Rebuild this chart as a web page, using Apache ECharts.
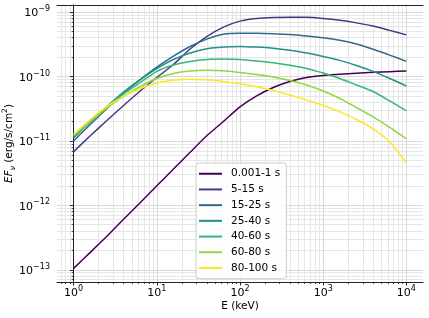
<!DOCTYPE html>
<html>
<head>
<meta charset="utf-8">
<script src="https://cdn.jsdelivr.net/npm/echarts@6/dist/echarts.min.js"></script>
<style>
html,body{margin:0;padding:0;background:#fff;}
#c{width:429px;height:318px;}
</style>
</head>
<body>
<div id="c"></div>
<script>
// Energies (keV)
const energies = [1, 1.585, 2.512, 3.981, 6.310, 10, 15.85, 25.12, 39.81, 63.10, 100, 158.5, 251.2, 398.1, 631.0, 1000, 1585, 2512, 3981, 6310, 10000];

// EF_nu (erg/s/cm^2) per time interval
const flux_0001_1 = [1.05e-13, 1.86e-13, 3.32e-13, 6.07e-13, 1.10e-12, 2.01e-12, 3.66e-12, 6.65e-12, 1.20e-11, 2.00e-11, 3.37e-11, 4.99e-11, 6.75e-11, 8.36e-11, 9.64e-11, 1.04e-10, 1.08e-10, 1.12e-10, 1.16e-10, 1.19e-10, 1.22e-10];
const flux_5_15 = [6.82e-12, 1.20e-11, 2.08e-11, 3.55e-11, 5.96e-11, 9.64e-11, 1.535e-10, 2.67e-10, 4.17e-10, 5.85e-10, 7.24e-10, 7.93e-10, 8.22e-10, 8.30e-10, 8.28e-10, 7.96e-10, 7.46e-10, 6.80e-10, 6.07e-10, 5.20e-10, 4.43e-10];
const flux_15_25 = [1.00e-11, 1.80e-11, 3.19e-11, 5.55e-11, 8.97e-11, 1.40e-10, 2.08e-10, 2.92e-10, 3.81e-10, 4.53e-10, 4.69e-10, 4.68e-10, 4.61e-10, 4.48e-10, 4.25e-10, 3.98e-10, 3.64e-10, 3.19e-10, 2.65e-10, 2.15e-10, 1.72e-10];
const flux_25_40 = [1.114e-11, 1.97e-11, 3.43e-11, 5.75e-11, 8.97e-11, 1.33e-10, 1.84e-10, 2.31e-10, 2.70e-10, 2.88e-10, 2.93e-10, 2.86e-10, 2.74e-10, 2.55e-10, 2.31e-10, 2.04e-10, 1.78e-10, 1.48e-10, 1.20e-10, 9.31e-11, 7.13e-11];
const flux_40_60 = [1.175e-11, 2.00e-11, 3.37e-11, 5.36e-11, 8.07e-11, 1.20e-10, 1.51e-10, 1.71e-10, 1.84e-10, 1.87e-10, 1.84e-10, 1.74e-10, 1.63e-10, 1.49e-10, 1.33e-10, 1.13e-10, 9.31e-11, 7.38e-11, 5.85e-11, 4.17e-11, 2.92e-11];
const flux_60_80 = [1.216e-11, 2.00e-11, 3.25e-11, 4.90e-11, 7.00e-11, 9.31e-11, 1.114e-10, 1.216e-10, 1.247e-10, 1.225e-10, 1.153e-10, 1.074e-10, 9.82e-11, 8.67e-11, 7.38e-11, 5.96e-11, 4.56e-11, 3.30e-11, 2.36e-11, 1.62e-11, 1.074e-11];
const flux_80_100 = [1.262e-11, 2.15e-11, 3.43e-11, 4.90e-11, 6.52e-11, 7.93e-11, 8.73e-11, 9.06e-11, 8.89e-11, 8.36e-11, 7.71e-11, 6.92e-11, 6.07e-11, 5.16e-11, 4.33e-11, 3.55e-11, 2.82e-11, 2.15e-11, 1.535e-11, 9.64e-12, 4.56e-12];

const seriesNames = ['0.001-1 s', '5-15 s', '15-25 s', '25-40 s', '40-60 s', '60-80 s', '80-100 s'];
const seriesFlux = [flux_0001_1, flux_5_15, flux_15_25, flux_25_40, flux_40_60, flux_60_80, flux_80_100];
const seriesColors = ['#440154', '#443a83', '#31688e', '#21918c', '#35b779', '#90d743', '#fde725'];

// Decade tick exponents
const xMajorExp = [0, 1, 2, 3, 4];
const yMajorExp = [-13, -12, -11, -10, -9];
const xRange = [-0.2, 4.2];
const yRange = [-13.19, -8.89];

function minorTicks(lo, hi) {
  const out = [];
  for (let n = Math.floor(lo) - 1; n <= Math.ceil(hi); n++) {
    for (let k = 2; k <= 9; k++) {
      const v = n + Math.log10(k);
      if (v > lo && v < hi) out.push(v);
    }
  }
  return out;
}
const xMinor = minorTicks(xRange[0], xRange[1]);
const yMinor = minorTicks(yRange[0], yRange[1]);

const FONT = 'DejaVu Sans';
const richPow = {
  b: {fontSize: 11, fontFamily: FONT, color: '#000', lineHeight: 14, verticalAlign: 'bottom'},
  s: {fontSize: 8, fontFamily: FONT, color: '#000', lineHeight: 9, verticalAlign: 'top'}
};
function powLabel(v) {
  const e = Math.round(v);
  const es = e < 0 ? '\u2212' + (-e) : String(e);
  return '{b|10}{s|' + es + '}';
}

const axisLineStyle = {show: true, lineStyle: {color: '#222', width: 1}};
const majorGrid = {show: true, lineStyle: {color: '#d8d8d8', width: 1}};
const minorGrid = {show: true, lineStyle: {color: '#e6e6e6', width: 1}};

const chart = echarts.init(document.getElementById('c'), null, {renderer: 'canvas'});
chart.setOption({
  animation: false,
  backgroundColor: '#fff',
  grid: {left: 57, right: 6, top: 5, bottom: 36, containLabel: false, outerBoundsMode: 'none'},
  xAxis: [
    {
      type: 'value', min: xRange[0], max: xRange[1], position: 'bottom',
      axisLine: axisLineStyle,
      axisTick: {show: true, customValues: xMajorExp, length: 3.5, inside: false, lineStyle: {color: '#222', width: 1}},
      axisLabel: {show: true, customValues: xMajorExp, formatter: powLabel, rich: richPow, margin: 3},
      splitLine: majorGrid,
      name: 'E (keV)', nameLocation: 'middle', nameGap: 19, nameMoveOverlap: false,
      nameTextStyle: {fontFamily: FONT, fontSize: 10.5, color: '#000', verticalAlign: 'top'}
    },
    {
      type: 'value', min: xRange[0], max: xRange[1], position: 'bottom',
      axisLine: {show: false},
      axisTick: {show: true, customValues: xMinor, length: 2, inside: false, lineStyle: {color: '#222', width: 0.8}},
      axisLabel: {show: false},
      splitLine: minorGrid
    },
    {
      type: 'value', min: xRange[0], max: xRange[1], position: 'top',
      axisLine: axisLineStyle, axisTick: {show: false}, axisLabel: {show: false}, splitLine: {show: false}
    }
  ],
  yAxis: [
    {
      type: 'value', min: yRange[0], max: yRange[1], position: 'left',
      axisLine: axisLineStyle,
      axisTick: {show: true, customValues: yMajorExp, length: 3.5, inside: false, lineStyle: {color: '#222', width: 1}},
      axisLabel: {show: true, customValues: yMajorExp, formatter: powLabel, rich: richPow, margin: 7},
      splitLine: majorGrid,
      name: '{i|EF}{sub|\u03bd} (erg/s/cm{sup|2})', nameLocation: 'middle', nameGap: 40, nameRotate: 90, nameMoveOverlap: false,
      nameTextStyle: {
        fontFamily: FONT, fontSize: 10.5, color: '#000',
        rich: {
          i: {fontFamily: FONT, fontSize: 10.5, fontStyle: 'italic', color: '#000', lineHeight: 16, verticalAlign: 'middle'},
          sub: {fontFamily: FONT, fontSize: 7.5, fontStyle: 'italic', color: '#000', lineHeight: 8, verticalAlign: 'bottom'},
          sup: {fontFamily: FONT, fontSize: 7.5, color: '#000', lineHeight: 8, verticalAlign: 'top'}
        }
      }
    },
    {
      type: 'value', min: yRange[0], max: yRange[1], position: 'left',
      axisLine: {show: false},
      axisTick: {show: true, customValues: yMinor, length: 2, inside: false, lineStyle: {color: '#222', width: 0.8}},
      axisLabel: {show: false},
      splitLine: minorGrid
    },
    {
      type: 'value', min: yRange[0], max: yRange[1], position: 'right',
      axisLine: axisLineStyle, axisTick: {show: false}, axisLabel: {show: false}, splitLine: {show: false}
    }
  ],
  legend: {
    show: true, orient: 'vertical', left: 196, top: 163,
    data: seriesNames,
    icon: 'rect', itemWidth: 23, itemHeight: 2, itemGap: 2.2,
    padding: [4, 6, 4, 3],
    backgroundColor: 'rgba(255,255,255,0.85)',
    borderColor: '#cccccc', borderWidth: 1, borderRadius: 3,
    textStyle: {fontFamily: FONT, fontSize: 10.5, color: '#000', lineHeight: 13.5, padding: [0, 0, 0, 4]}
  },
  series: seriesNames.map((name, i) => ({
    name: name,
    type: 'line',
    xAxisIndex: 0, yAxisIndex: 0,
    data: energies.map((e, j) => [Math.log10(e), Math.log10(seriesFlux[i][j])]),
    showSymbol: false, symbol: 'none',
    smooth: 0.2,
    lineStyle: {color: seriesColors[i], width: 1.5},
    itemStyle: {color: seriesColors[i]},
    z: 2 + i
  }))
});
</script>
</body>
</html>
